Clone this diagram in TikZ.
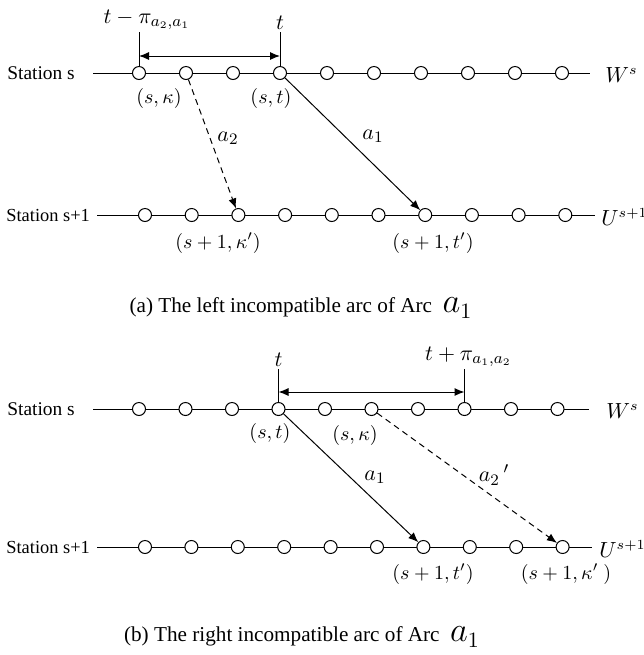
\documentclass[tikz,border=0pt]{standalone}
\usepackage{fontspec}
\setmainfont{Liberation Serif}
\usetikzlibrary{arrows.meta,positioning,calc}

\begin{document}
\begin{tikzpicture}[
  x=0.5pt, y=-0.5pt,
  font=\fontsize{9.7}{11.5}\selectfont,
  event/.style={draw, circle, fill=white, minimum size=6.5pt, inner sep=0pt, line width=0.5pt},
  track/.style={line width=0.5pt},
  tickmark/.style={line width=0.4pt},
  arc/.style={-{Latex[length=5pt,width=4pt]}, line width=0.5pt},
  arcdash/.style={arc, dash pattern=on 3pt off 2.2pt},
  span/.style={{Latex[length=5pt,width=4pt]}-{Latex[length=5pt,width=4pt]}, line width=0.5pt},
  lbl/.style={font=\fontsize{11}{13}\selectfont, inner sep=1pt},
  endlbl/.style={anchor=west, font=\fontsize{10.5}{12}\selectfont, inner sep=0pt},
  coordlbl/.style={font=\fontsize{10.2}{12}\selectfont, inner sep=0pt},
  station/.style={anchor=west, inner sep=0pt},
  caption/.style={font=\fontsize{10.6}{12.5}\selectfont, inner sep=0pt}
]
\useasboundingbox (0,0) rectangle (644,655);

% (a) left incompatible arc
\coordinate (sa0) at (93,73);
\coordinate (sa11) at (590,73);
\coordinate (ua0) at (97,215);
\coordinate (ua11) at (595,215);
\draw[track] (sa0) -- (sa11);
\draw[track] (ua0) -- (ua11);
\foreach \i in {1,...,10} {
  \node[event] (sa\i) at ({139+47*(\i-1)},73) {};
  \node[event] (ua\i) at ({145+46.7*(\i-1)},215) {};
}
\node[station] (lsa) at (7,73) {Station s};
\node[station, font=\fontsize{9.2}{11}\selectfont] (lua) at (6,215) {Station s+1};
\node[endlbl] (wa) at (605,75) {$W^{s}$};
\node[endlbl] (ua) at (601,217) {$U^{s+1}$};

\draw[tickmark] (sa1.north) -- ++(0,-34) coordinate (ka);
\draw[tickmark] (sa4.north) -- ++(0,-34) coordinate (kb);
\draw[span] ($(sa1.north)+(0,-10)$) -- ($(sa4.north)+(0,-10)$);
\node[lbl, above=0pt of ka, xshift=4pt] (pia) {$t-\pi_{a_2,a_1}$};
\node[lbl, above=0pt of kb] (ta) {$t$};

\node[coordlbl] (kap) at (159,98) {$(s,\kappa)$};
\node[coordlbl] (sta) at (271,98) {$(s,t)$};
\node[coordlbl] (kapp) at (218,243) {$(s+1,\kappa')$};
\node[coordlbl] (stpa) at (433,243) {$(s+1,t')$};

\draw[arcdash] (sa2) -- (ua3);
\draw[arc] (sa4) -- (ua7);
\node[lbl] (a2a) at (228,138) {$a_2$};
\node[lbl] (a1a) at (373,136) {$a_1$};

\node[caption] (capa) at (301,308) {(a) The left incompatible arc of Arc\ \ {\fontsize{16}{18}\selectfont$a_1$}};

% (b) right incompatible arc
\coordinate (sb0) at (93,409);
\coordinate (sb11) at (589,409);
\coordinate (ub0) at (97,547);
\coordinate (ub11) at (592,547);
\draw[track] (sb0) -- (sb11);
\draw[track] (ub0) -- (ub11);
\foreach \i in {1,...,10} {
  \node[event] (sb\i) at ({139+46.5*(\i-1)},409) {};
  \node[event] (ub\i) at ({145+46.4*(\i-1)},547) {};
}
\node[station] (lsb) at (7,409) {Station s};
\node[station, font=\fontsize{9.2}{11}\selectfont] (lub) at (6,547) {Station s+1};
\node[endlbl] (wb) at (606,411) {$W^{s}$};
\node[endlbl] (ub) at (599,549) {$U^{s+1}$};

\draw[tickmark] (sb4.north) -- ++(0,-33) coordinate (kc);
\draw[tickmark] (sb8.north) -- ++(0,-33) coordinate (kd);
\draw[span] ($(sb4.north)+(0,-10)$) -- ($(sb8.north)+(0,-10)$);
\node[lbl, above=0pt of kc] (tb) {$t$};
\node[lbl, above=0pt of kd, xshift=2pt] (pib) {$t+\pi_{a_1,a_2}$};

\node[coordlbl] (stb) at (270,433) {$(s,t)$};
\node[coordlbl] (kbp) at (355,435) {$(s,\kappa)$};
\node[coordlbl] (stpb) at (433,574) {$(s+1,t')$};
\node[coordlbl] (kbpp) at (566,574) {$(s+1,\kappa'\ )$};

\draw[arc] (sb4) -- (ub7);
\draw[arcdash] (sb6) -- (ub10);
\node[lbl] (a1b) at (375,477) {$a_1$};
\node[lbl] (a2b) at (494,475) {$a_2\,'$};

\node[caption] (capb) at (302,637) {(b) The right incompatible arc of Arc\ \ {\fontsize{16}{18}\selectfont$a_1$}};
\end{tikzpicture}
\end{document}
